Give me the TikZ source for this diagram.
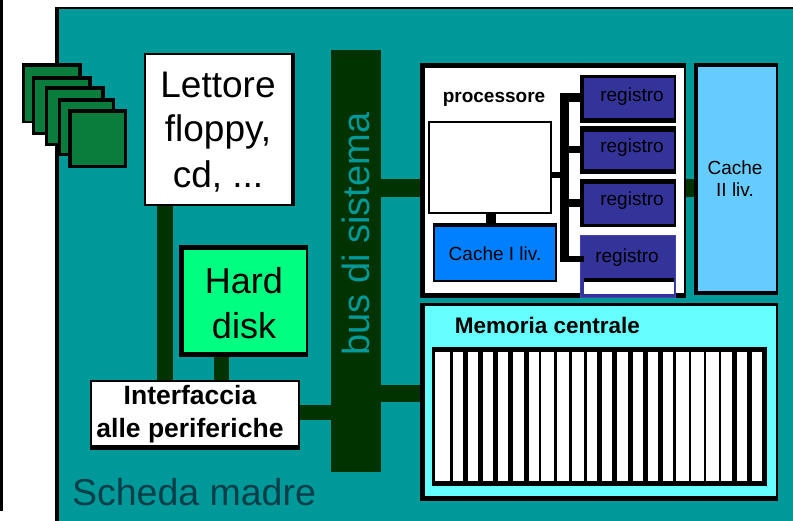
\documentclass[tikz,border=0pt]{standalone}
\usepackage{fontspec}
\setmainfont{Liberation Sans}
\usetikzlibrary{fit}
\definecolor{board}{HTML}{009999}
\definecolor{busgreen}{HTML}{003300}
\definecolor{chip}{HTML}{0A7D3C}
\definecolor{hdgreen}{HTML}{00FF80}
\definecolor{regblue}{HTML}{333399}
\definecolor{regedge}{HTML}{4444AA}
\definecolor{cacheone}{HTML}{0080FF}
\definecolor{cachetwo}{HTML}{66CCFF}
\definecolor{memcyan}{HTML}{66FFFF}
\definecolor{boardtext}{HTML}{003F4A}
\newcommand\cbox[7][black]{%
  \node[fit={(#3) (#4)},inner sep=0pt,fill=#1] (#2) {};
  \node[fit={(#5) (#6)},inner sep=0pt,fill=#7] (#2-in) {};}
\tikzset{
  link/.style={draw=busgreen,line width=#1,line cap=butt},
  wire/.style={draw=black,line width=#1,line cap=butt},
  big/.style={anchor=base,inner sep=0pt,font=\fontsize{37}{45}\selectfont},
  small/.style={anchor=base,inner sep=0pt,font=\fontsize{19}{23}\selectfont},
  smallb/.style={anchor=base,inner sep=0pt,font=\fontsize{19}{23}\selectfont\bfseries},
  midb/.style={anchor=base,inner sep=0pt,font=\fontsize{26.5}{32}\selectfont\bfseries},
}
\begin{document}
\begin{tikzpicture}[x=1pt,y=-1pt]
\useasboundingbox (0,0) rectangle (793,521);
\fill[white] (0,0) rectangle (793,521);
% left rule
\fill[black] (0,0) rectangle (3,511);
% board
\cbox{board}{55,7}{793,521}{59,9}{793,521}{board}
% stacked cards
\cbox{cardA}{22,63}{82,123}{25,67}{78,121}{chip}
\cbox{cardB}{32,76}{92,135}{35,80}{88,132}{chip}
\cbox{cardC}{45,86}{105,146}{48,90}{101,143}{chip}
\cbox{cardD}{58,98}{115,156}{61,102}{112,153}{chip}
\cbox{cardE}{68,109}{127,168}{72,113}{124,165}{chip}
% peripherals
\cbox{lettore}{144,53}{295,206}{146,55}{291,204}{white}
\node[big] (lettoreA) at (218,98) {Lettore};
\node[big] (lettoreB) at (218,142) {floppy,};
\node[big] (lettoreC) at (218,188) {cd, ...};
\cbox{hd}{179,245}{308,357}{184,250}{306,352}{hdgreen}
\node[big,font=\fontsize{36}{44}\selectfont] (hdA) at (244,294) {Hard};
\node[big,font=\fontsize{36}{44}\selectfont] (hdB) at (244,339) {disk};
\cbox{interf}{90,380}{300,450}{92,382}{298,445}{white}
\node[midb] (interfA) at (190,405) {Interfaccia};
\node[midb] (interfB) at (190,437) {alle periferiche};
% bus
\node[fit={(331,50) (381,472)},inner sep=0pt,fill=busgreen] (bus) {};
\node[anchor=base,inner sep=0pt,rotate=90,text=board,font=\fontsize{38}{46}\selectfont] (busl) at (369,234) {bus di sistema};
% processor
\cbox{proc}{420,63}{686,298}{425,68}{684,293}{white}
\node[smallb] (procl) at (494,103) {processore};
\cbox{core}{428,121}{552,214}{430,123}{550,212}{white}
\cbox{cachei}{433,223}{557,282}{435,227}{555,280}{cacheone}
\node[small] (cacheil) at (495,261) {Cache I liv.};
\cbox{regA}{580,75}{676,123}{584,78}{674,118}{regblue}
\node[small] (regAl) at (632,101.5) {registro};
\cbox{regB}{580,126}{676,174}{584,132}{674,169}{regblue}
\node[small] (regBl) at (632,152.5) {registro};
\cbox{regC}{580,179}{676,227}{584,184}{674,224}{regblue}
\node[small] (regCl) at (632,205.5) {registro};
\cbox[regedge]{regD}{580,235}{676,298}{581,236}{675,297}{regblue}
\node[small] (regDl) at (627,263) {registro};
\cbox{regDlow}{584,278}{674,294}{584,282}{674,294}{white}
% wires inside the processor
\coordinate (tx) at (564.5,0);
\coordinate (ttop) at (0,93);
\coordinate (tbot) at (0,262);
\coordinate (ty1) at (0,97.5);
\coordinate (ty2) at (0,149.5);
\coordinate (ty3) at (0,203);
\coordinate (ty4) at (0,259);
\coordinate (ty0) at (0,175);
\coordinate (cx) at (491,0);
\draw[wire=9pt] (tx |- ttop) -- (tx |- tbot);
\draw[wire=9pt] (tx |- ty1) -- (regA.west |- ty1);
\draw[wire=7pt] (tx |- ty2) -- (regB.west |- ty2);
\draw[wire=8pt] (tx |- ty3) -- (regC.west |- ty3);
\draw[wire=6pt] (tx |- ty4) -- (584,0 |- ty4);
\draw[wire=6pt] (core.east |- ty0) -- (tx |- ty0);
\draw[wire=10pt] (core.south -| cx) -- (cachei.north -| cx);
% cache II
\cbox{cacheii}{694,63}{778,295}{698,67}{776,291}{cachetwo}
\node[small] (cacheiiA) at (735,174.5) {Cache};
\node[small] (cacheiiB) at (735,197) {II liv.};
% memory
\cbox{mem}{420,303}{778,501}{425,306}{776,496}{memcyan}
\node[anchor=base,inner sep=0pt,font=\fontsize{22.5}{27}\selectfont\bfseries] (meml) at (547.5,334) {Memoria centrale};
\node[fit={(432,347) (767,486)},inner sep=0pt,fill=black] (cells) {};
\foreach \a/\b in {105/150,158/188,203/235,249/280,295/325,340/372,386/417,424/462,470/508,516/553,561/592,607/637,652/683,698/728,744/775,789/820,827/866,873/911,919/957,964/995,1010/1041,1056/1087}
  \fill[white] ({400+\a/3},352) rectangle ({400+\b/3},481);
% connectors to the bus
\coordinate (yA) at (0,412.5);
\coordinate (yB) at (0,188);
\coordinate (yC) at (0,393.5);
\coordinate (xA) at (165,0);
\coordinate (xB) at (221.5,0);
\draw[link=16pt] (lettore.south -| xA) -- (interf.north -| xA);
\draw[link=15pt] (hd.south -| xB) -- (interf.north -| xB);
\draw[link=15pt] (interf.east |- yA) -- (bus.west |- yA);
\draw[link=18pt] (bus.east |- yB) -- (proc.west |- yB);
\draw[link=17pt] (bus.east |- yC) -- (mem.west |- yC);
\draw[link=18pt] (proc.east |- yB) -- (cacheii.west |- yB);
% board label
\node[big,text=boardtext,font=\fontsize{37.5}{45}\selectfont] (boardl) at (194,505) {Scheda madre};
\end{tikzpicture}
\end{document}
